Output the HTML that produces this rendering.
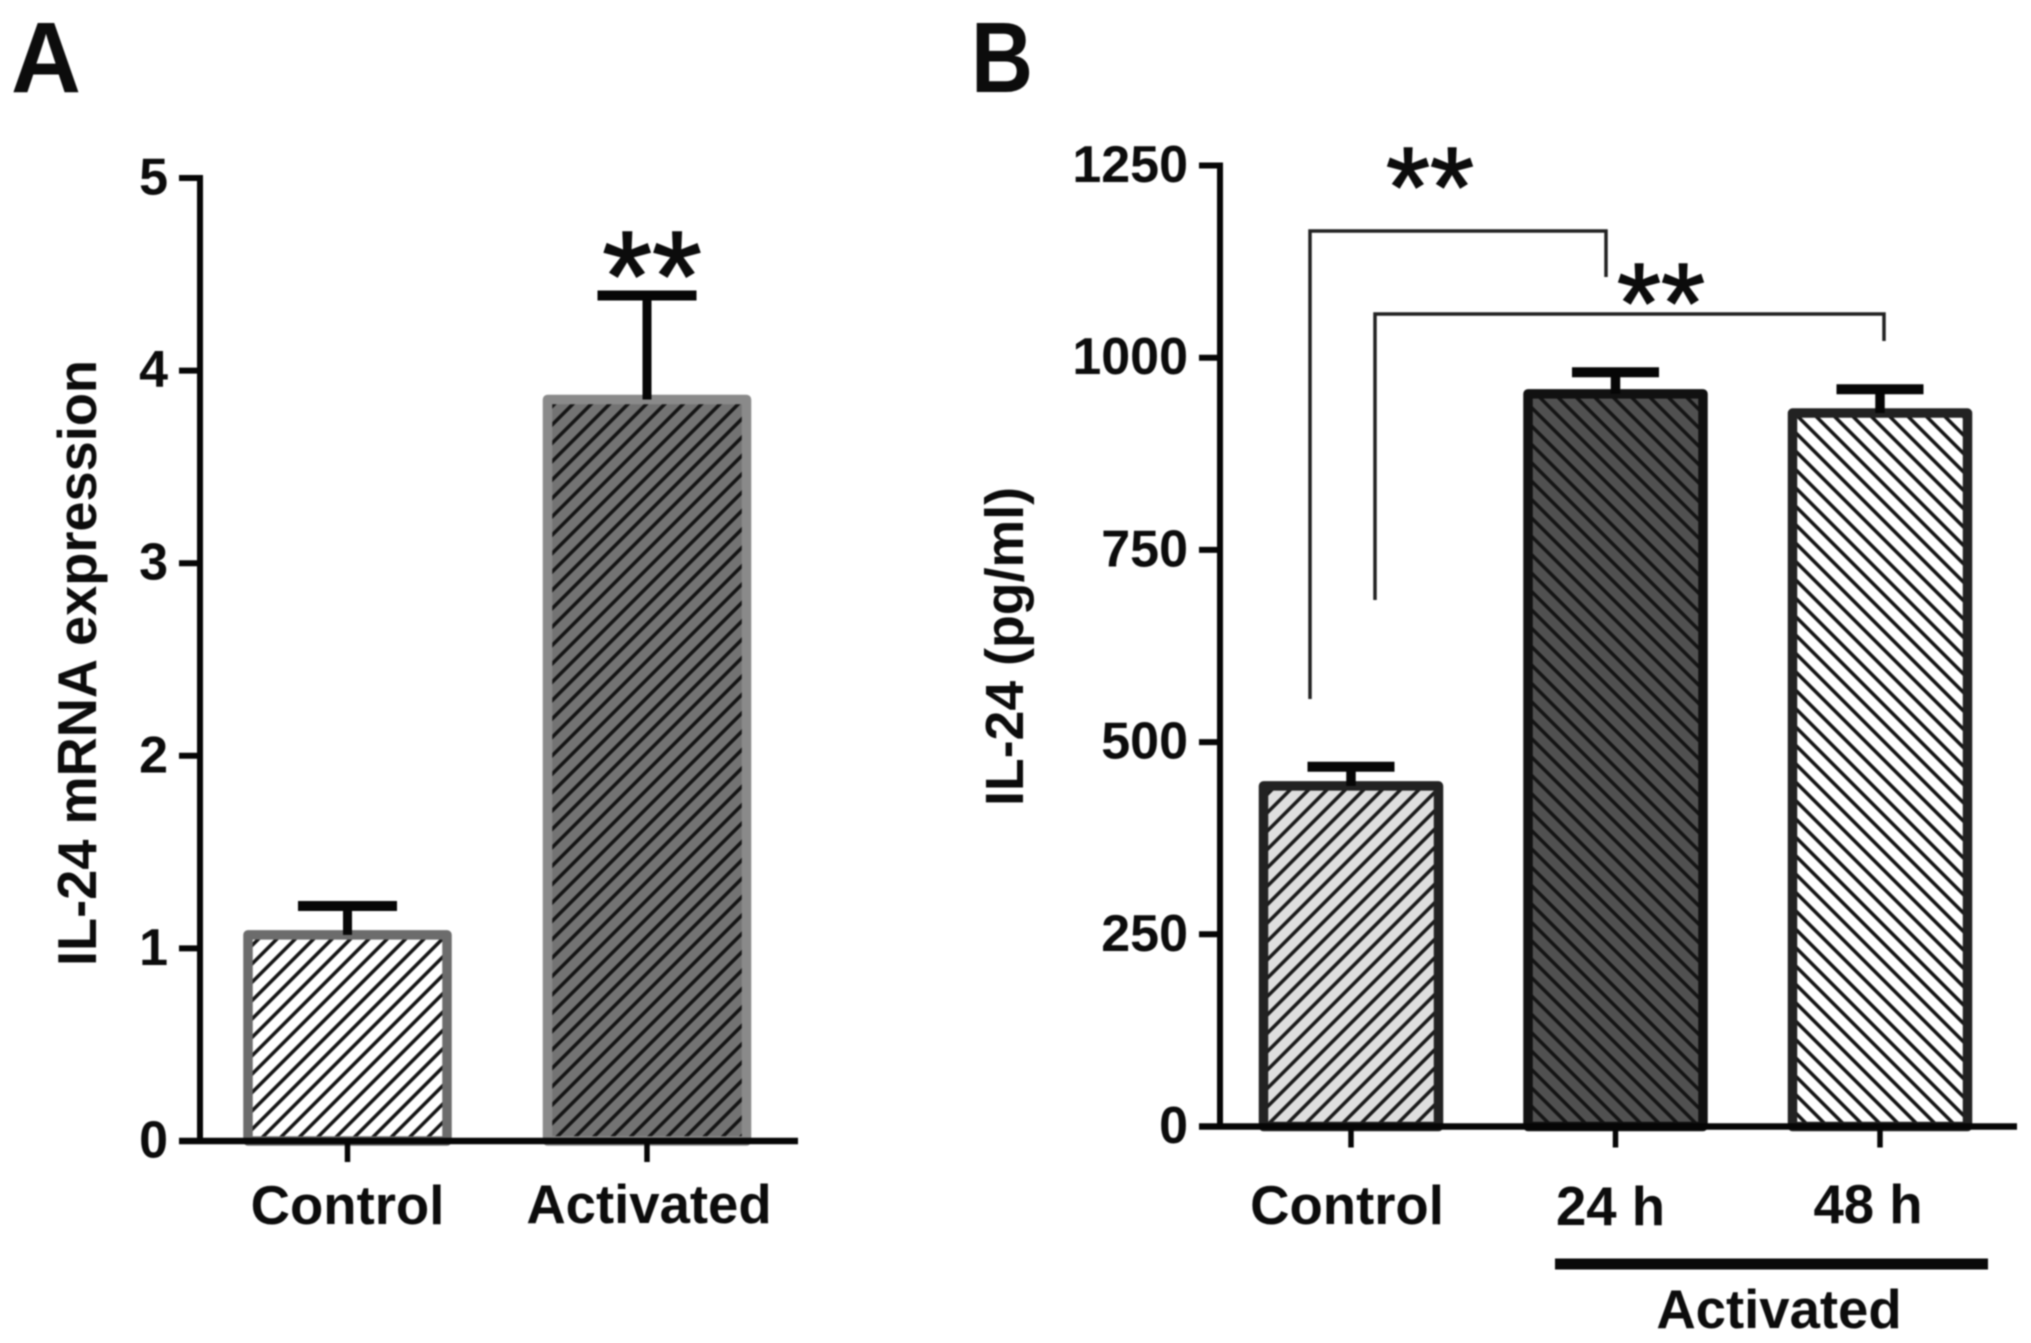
<!DOCTYPE html>
<html lang="en">
<head>
<meta charset="utf-8">
<title>IL-24 expression bar charts</title>
<style>
  html, body { margin: 0; padding: 0; background: #fff; }
  #figure { display: block; width: 2031px; height: 1343px; filter: blur(0.7px); }
  text { font-family: "Liberation Sans", sans-serif; font-weight: bold; fill: #0c0c0c; }
  text.stars { font-weight: normal; stroke: #0c0c0c; stroke-width: 1.5px; }
</style>
</head>
<body>
<svg id="figure" xmlns="http://www.w3.org/2000/svg" width="2031" height="1343" viewBox="0 0 2031 1343">
  <defs>
    <pattern id="hatch-a-light" patternUnits="userSpaceOnUse" width="13" height="13" patternTransform="rotate(45)">
      <rect width="13" height="13" fill="#ffffff"/><rect width="3.5" height="13" fill="#141414"/>
    </pattern>
    <pattern id="hatch-a-dark" patternUnits="userSpaceOnUse" width="13" height="13" patternTransform="rotate(45)">
      <rect width="13" height="13" fill="#737373"/><rect width="3.5" height="13" fill="#141414"/>
    </pattern>
    <pattern id="hatch-b-control" patternUnits="userSpaceOnUse" width="13" height="13" patternTransform="rotate(45)">
      <rect width="13" height="13" fill="#dedede"/><rect width="3.5" height="13" fill="#1a1a1a"/>
    </pattern>
    <pattern id="hatch-b-24" patternUnits="userSpaceOnUse" width="13" height="13" patternTransform="rotate(-45)">
      <rect width="13" height="13" fill="#505050"/><rect width="3.5" height="13" fill="#141414"/>
    </pattern>
    <pattern id="hatch-b-48" patternUnits="userSpaceOnUse" width="13" height="13" patternTransform="rotate(-45)">
      <rect width="13" height="13" fill="#ffffff"/><rect width="3.5" height="13" fill="#141414"/>
    </pattern>
  </defs>
  <rect x="0" y="0" width="2031" height="1343" fill="#ffffff"/>

  <text x="11" y="92" font-size="100" textLength="70" lengthAdjust="spacingAndGlyphs">A</text>
  <text x="971" y="92" font-size="100" textLength="62" lengthAdjust="spacingAndGlyphs">B</text>

  <g id="panel-a"></g>
  <g id="panel-b"></g>

  <text transform="translate(96 966) rotate(-90)" font-size="55" textLength="606" lengthAdjust="spacingAndGlyphs">IL-24 mRNA expression</text>
  <text transform="translate(1023 806) rotate(-90)" font-size="54" textLength="319" lengthAdjust="spacingAndGlyphs">IL-24 (pg/ml)</text>

  <text class="stars" x="652" y="320" font-size="128" text-anchor="middle">**</text>
  <text class="stars" x="1430" y="226" font-size="113" text-anchor="middle">**</text>
  <text class="stars" x="1661" y="342" font-size="113" text-anchor="middle">**</text>

  <path d="M1310 699 V231 H1606 V277" fill="none" stroke="#222" stroke-width="3.5"/>
  <path d="M1375 600 V314 H1884 V341" fill="none" stroke="#222" stroke-width="3.5"/>

  <rect x="1555" y="1258.5" width="433" height="11" fill="#0a0a0a"/>
  <text x="1779" y="1328" font-size="54.5" text-anchor="middle">Activated</text>
</svg>
<script>
// Panel A data
const aCategories = ['Control', 'Activated'];
const aValues = [1.07, 3.85];
const aErrors = [0.15, 0.54];
const aTicks = [0, 1, 2, 3, 4, 5];

// Panel B data
const bCategories = ['Control', '24 h', '48 h'];
const bValues = [443, 953, 928];
const bErrors = [25, 28, 31];
const bTicks = [0, 250, 500, 750, 1000, 1250];

const SVG_NS = 'http://www.w3.org/2000/svg';

function make(parent, tag, attrs) {
  const node = document.createElementNS(SVG_NS, tag);
  for (const key in attrs) node.setAttribute(key, attrs[key]);
  parent.appendChild(node);
  return node;
}

// Axis functions
function yA(v) { return 1141 - v * (963 / 5); }
function xA(i) { return 347.5 + i * 299.5; }
function yB(v) { return 1126.5 - v * (961 / 1250); }
function xB(i) { return 1351 + i * 264.5; }

function drawBars(group, cats, vals, errs, x, y, opt) {
  cats.forEach(function (cat, i) {
    const slug = opt.prefix + '-' + cat.toLowerCase().replace(/\s+/g, '-');
    const top = y(vals[i]);
    const base = y(0);
    const bar = make(group, 'rect', {
      x: x(i) - opt.barWidth / 2, y: top, width: opt.barWidth, height: base - top,
      fill: 'url(#' + opt.fills[i] + ')', stroke: opt.strokes[i],
      'stroke-width': opt.barStroke, 'stroke-linejoin': 'round'
    });
    
    

    const errTop = y(vals[i] + errs[i]);
    const stem = make(group, 'line', {
      x1: x(i), x2: x(i), y1: top, y2: errTop, stroke: '#060606', 'stroke-width': opt.stemWidth
    });
    
    

    const cap = make(group, 'line', {
      x1: x(i) - opt.capWidth / 2, x2: x(i) + opt.capWidth / 2, y1: errTop, y2: errTop,
      stroke: '#060606', 'stroke-width': 10
    });
    
    

    const tick = make(group, 'line', {
      x1: x(i), x2: x(i), y1: base, y2: base + 21, stroke: '#060606', 'stroke-width': 5.5
    });
    
    
  });
}

function drawYAxis(group, ticks, y, axisX, tickLeft, labelRight, right, prefix) {
  const spine = make(group, 'line', {
    x1: axisX, x2: axisX, y1: y(ticks[ticks.length - 1]) - 3, y2: y(0) + 3, stroke: '#060606', 'stroke-width': 6
  });
  
  

  const baseline = make(group, 'line', {
    x1: tickLeft, x2: right, y1: y(0), y2: y(0), stroke: '#060606', 'stroke-width': 6.5
  });
  
  

  ticks.forEach(function (t) {
    const tick = make(group, 'line', {
      x1: tickLeft, x2: axisX, y1: y(t), y2: y(t), stroke: '#060606', 'stroke-width': 6
    });
    
    

    const label = make(group, 'text', {
      x: labelRight, y: y(t) + 16.5, 'text-anchor': 'end', 'font-size': 52
    });
    label.textContent = String(t);
    
    
  });
}

function drawCategoryLabel(group, text, cx, baselineY, prefix) {
  const label = make(group, 'text', {
    x: cx, y: baselineY, 'text-anchor': 'middle', 'font-size': 54.5
  });
  label.textContent = text;
  
  
}

const panelA = document.getElementById('panel-a');
const panelB = document.getElementById('panel-b');

drawBars(panelA, aCategories, aValues, aErrors, xA, yA, {
  prefix: 'a', barWidth: 199, barStroke: 9.5, stemWidth: 9, capWidth: 99,
  fills: ['hatch-a-light', 'hatch-a-dark'], strokes: ['#6c6c6c', '#8a8a8a']
});
drawYAxis(panelA, aTicks, yA, 200, 179, 168, 798, 'a');
drawCategoryLabel(panelA, aCategories[0], xA(0), 1224, 'a');
drawCategoryLabel(panelA, aCategories[1], xA(1) + 2, 1223, 'a');

drawBars(panelB, bCategories, bValues, bErrors, xB, yB, {
  prefix: 'b', barWidth: 175, barStroke: 9.5, stemWidth: 9.5, capWidth: 87,
  fills: ['hatch-b-control', 'hatch-b-24', 'hatch-b-48'], strokes: ['#222222', '#111111', '#222222']
});
drawYAxis(panelB, bTicks, yB, 1220, 1199, 1188, 2017, 'b');
drawCategoryLabel(panelB, bCategories[0], xB(0) - 4, 1224, 'b');
drawCategoryLabel(panelB, bCategories[1], xB(1) - 5, 1225, 'b');
drawCategoryLabel(panelB, bCategories[2], xB(2) - 12, 1223, 'b');
</script>
</body>
</html>
